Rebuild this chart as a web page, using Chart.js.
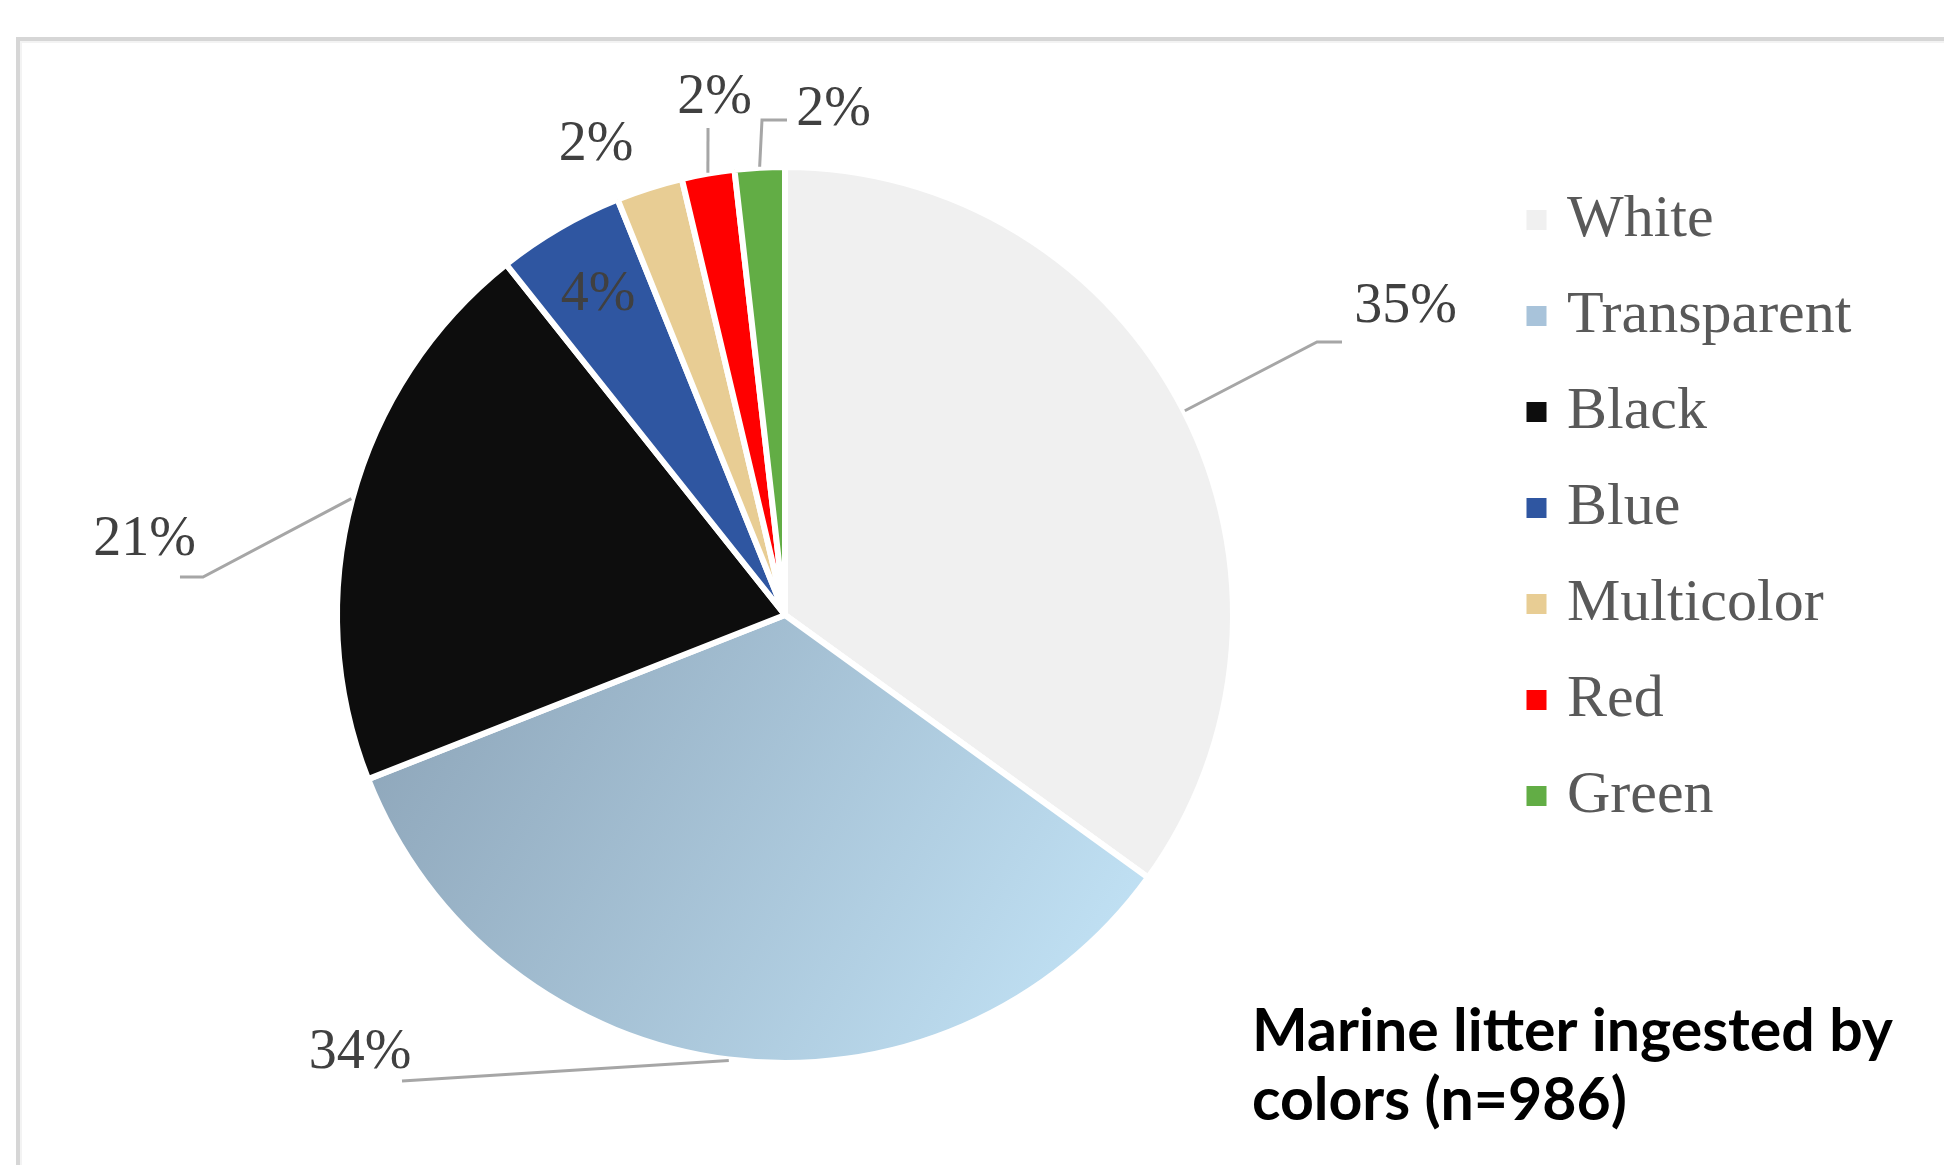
<!DOCTYPE html>
<html>
<head>
<meta charset="utf-8">
<script src="https://cdn.jsdelivr.net/npm/chart.js@4.4.1/dist/chart.umd.min.js"></script>
<style>
html, body { margin: 0; padding: 0; background: #ffffff; }
canvas { display: block; }
</style>
</head>
<body>
<canvas id="c" width="1944" height="1165"></canvas>
<script>
// ---- data ----
const categories = ['White', 'Transparent', 'Black', 'Blue', 'Multicolor', 'Red', 'Green'];
const shares = [35.0, 34.1, 20.3, 4.6, 2.4, 1.9, 1.8];
const shareLabels = ['35%', '34%', '21%', '4%', '2%', '2%', '2%'];
const titleLines = ['Marine litter ingested by', 'colors (n=986)'];

// ---- styles ----
const sliceColors = ['#f0f0f0', '#a8c3da', '#0d0d0d', '#2f56a1', '#e8cd94', '#ff0000', '#62ad45'];
const transparentGradient = ['#889fb3', '#c4e5f8'];
const serif = '"Liberation Serif", "Times New Roman", serif';
const legendFontSize = 60;
const legendPadding = 36;
const borderW = 6;

// label placement, in units of the pie radius relative to the pie centre
const labelLayout = [
  { leader: [[1.1955, -0.6135], [1.2517, -0.6135]], text: [1.3944, -0.6584] },
  { leader: [[-0.8607, 1.0472]], text: [-0.9551, 1.0180] },
  { leader: [[-1.3079, -0.0854], [-1.3596, -0.0854]], text: [-1.4393, -0.1348] },
  { leader: null, text: [-0.4202, -0.6854] },
  { leader: null, text: [-0.4247, -1.0225] },
  { leader: [[-0.1730, -1.0944]], text: [-0.1584, -1.1281] },
  { leader: [[-0.0517, -1.1124], [0.0045, -1.1124]], text: [0.1090, -1.1011] }
];

// legend geometry: measure the widest legend text so the legend starts where the reference has it
const mctx = document.createElement('canvas').getContext('2d');
mctx.font = legendFontSize + 'px ' + serif;
const maxTextW = Math.max(...categories.map(t => mctx.measureText(t).width));
const legendWidth = legendPadding + 1 + legendFontSize / 2 + maxTextW + 10;
const legendLeft = 1500;
const padRight = 1944 - legendLeft - legendWidth;

const framePlugin = {
  id: 'frame',
  beforeDraw(chart) {
    const c = chart.ctx;
    c.save();
    c.fillStyle = '#ffffff';
    c.fillRect(0, 0, chart.width, chart.height);
    c.fillStyle = '#d6d6d6';
    c.fillRect(16, 37, chart.width, 4);
    c.fillRect(16, 37, 4, chart.height);
    c.fillStyle = '#f3f3f3';
    c.fillRect(20, 41, chart.width, 2);
    c.fillRect(20, 41, 2, chart.height);
    c.restore();
  }
};

const labelPlugin = {
  id: 'sliceLabels',
  afterDatasetsDraw(chart) {
    const c = chart.ctx;
    const meta = chart.getDatasetMeta(0);
    c.save();
    meta.data.forEach((arc, i) => {
      const p = arc.getProps(['x', 'y', 'startAngle', 'endAngle', 'outerRadius'], true);
      const R = p.outerRadius - borderW / 2;
      const mid = (p.startAngle + p.endAngle) / 2;
      const L = labelLayout[i];
      if (L.leader) {
        c.beginPath();
        c.strokeStyle = '#a6a6a6';
        c.lineWidth = 3;
        c.lineJoin = 'miter';
        c.moveTo(p.x + (R + 4) * Math.cos(mid), p.y + (R + 4) * Math.sin(mid));
        L.leader.forEach(q => c.lineTo(p.x + q[0] * R, p.y + q[1] * R));
        c.stroke();
      }
      c.font = '56px ' + serif;
      c.fillStyle = '#404040';
      c.textAlign = 'center';
      c.textBaseline = 'alphabetic';
      c.fillText(shareLabels[i], p.x + L.text[0] * R, p.y + L.text[1] * R);
    });
    c.restore();
  }
};

const titlePlugin = {
  id: 'cornerTitle',
  afterDraw(chart) {
    const c = chart.ctx;
    c.save();
    c.font = 'bold 59px Lato, "Open Sans", sans-serif';
    c.fillStyle = '#000000';
    c.textAlign = 'left';
    c.textBaseline = 'alphabetic';
    c.fillText(titleLines[0], 1252, 1051);
    c.fillText(titleLines[1], 1252, 1120);
    c.restore();
  }
};

let gradCache = null;
function sliceColor(ctx) {
  const i = ctx.dataIndex;
  if (i !== 1) return sliceColors[i];
  const area = ctx.chart.chartArea;
  if (!area) return sliceColors[1];
  const cx = (area.left + area.right) / 2, cy = (area.top + area.bottom) / 2, r = 445;
  const key = cx + ',' + cy;
  if (!gradCache || gradCache.key !== key) {
    const g = ctx.chart.ctx.createLinearGradient(cx - r, cy - 0.05 * r, cx + 0.75 * r, cy + r);
    g.addColorStop(0, transparentGradient[0]);
    g.addColorStop(1, transparentGradient[1]);
    gradCache = { key, g };
  }
  return gradCache.g;
}

new Chart(document.getElementById('c'), {
  type: 'pie',
  data: {
    labels: categories,
    datasets: [{
      data: shares,
      backgroundColor: sliceColor,
      borderColor: '#ffffff',
      borderWidth: borderW,
      radius: 448
    }]
  },
  options: {
    responsive: false,
    animation: false,
    devicePixelRatio: 1,
    layout: { padding: { left: 70, right: padRight, top: 154, bottom: 89 } },
    plugins: {
      tooltip: { enabled: false },
      title: { display: false },
      legend: {
        position: 'right',
        align: 'start',
        labels: {
          usePointStyle: true,
          pointStyle: 'rect',
          boxWidth: 1,
          boxHeight: 20,
          padding: legendPadding,
          color: '#595959',
          font: { family: serif, size: legendFontSize },
          generateLabels(chart) {
            const items = Chart.overrides.pie.plugins.legend.labels.generateLabels(chart);
            return items.map((it, i) => Object.assign({}, it, {
              lineWidth: 0,
              strokeStyle: 'rgba(0,0,0,0)',
              fillStyle: sliceColors[i]
            }));
          }
        }
      }
    }
  },
  plugins: [framePlugin, labelPlugin, titlePlugin]
});
</script>
</body>
</html>
